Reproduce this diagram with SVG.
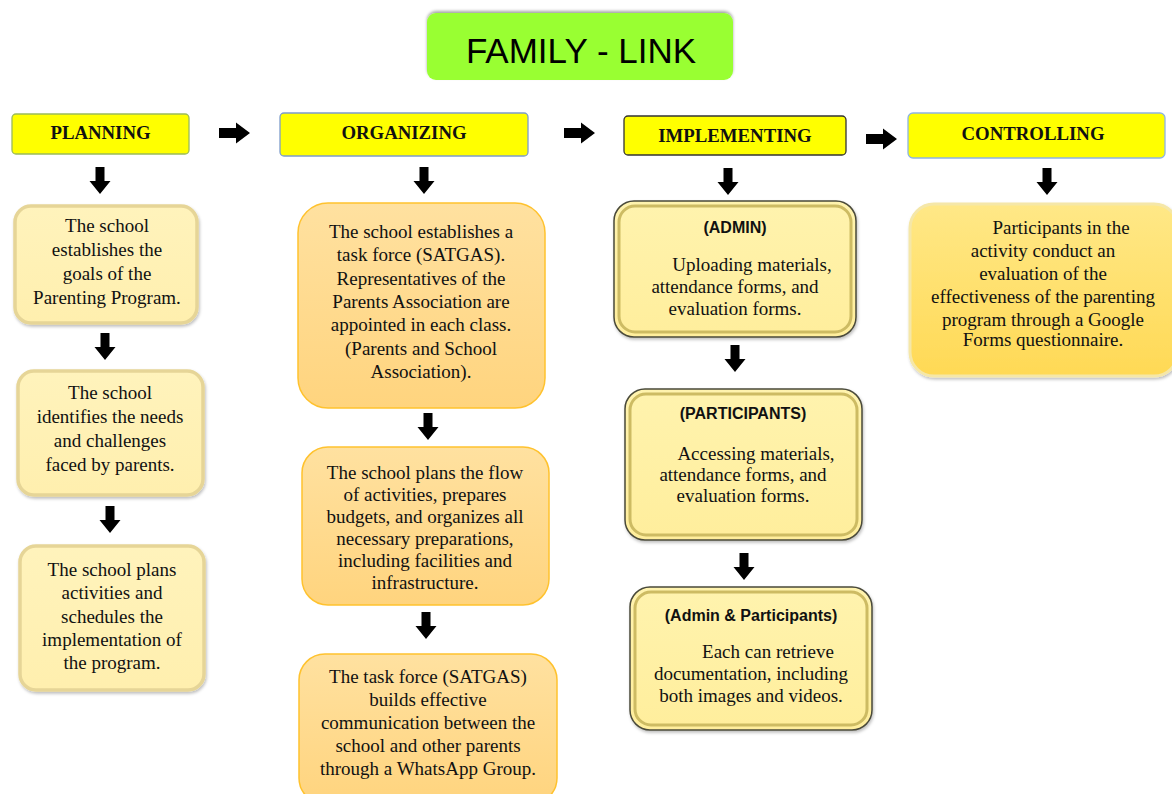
<svg xmlns="http://www.w3.org/2000/svg" width="1172" height="794" viewBox="0 0 1172 794">
<defs>
<style>
.t{font-family:"Liberation Serif","Times New Roman",serif;font-size:19px;fill:#111;text-anchor:middle}
.h{font-family:"Liberation Serif","Times New Roman",serif;font-size:18.8px;font-weight:bold;fill:#111;text-anchor:middle}
.s{font-family:"Liberation Sans",Arial,sans-serif;font-size:16px;font-weight:bold;fill:#111;text-anchor:middle}
.hd{fill:#FFFF00;stroke-width:1.3}
.pl{fill:url(#gPl);stroke:#E6D597;stroke-width:3.5;filter:url(#sh)}
.og{fill:url(#gOg);stroke:#FFC22E;stroke-width:1.5}
.im{fill:url(#gIm);stroke:#4A4A3A;stroke-width:1.5;filter:url(#sh)}
.imi{fill:none;stroke:#CDBB63;stroke-width:3}
.ct{fill:url(#gCt);stroke:#F5E7A8;stroke-width:3;filter:url(#sh)}
.ar{fill:#000}
</style>
<linearGradient id="gPl" x1="0" y1="0" x2="0" y2="1"><stop offset="0" stop-color="#FFF3BC"/><stop offset="1" stop-color="#FFEFAE"/></linearGradient>
<linearGradient id="gOg" x1="0" y1="0" x2="0" y2="1"><stop offset="0" stop-color="#FFE1A0"/><stop offset="1" stop-color="#FFD47E"/></linearGradient>
<linearGradient id="gIm" x1="0" y1="0" x2="0" y2="1"><stop offset="0" stop-color="#FFF3AE"/><stop offset="1" stop-color="#FFEE9C"/></linearGradient>
<linearGradient id="gCt" x1="0" y1="0" x2="0" y2="1"><stop offset="0" stop-color="#FFE887"/><stop offset="1" stop-color="#FFD955"/></linearGradient>
<filter id="sh" x="-10%" y="-10%" width="120%" height="125%"><feDropShadow dx="1" dy="2" stdDeviation="1.5" flood-color="#000" flood-opacity="0.25"/></filter>
<filter id="tsh" x="-10%" y="-20%" width="120%" height="140%"><feDropShadow dx="0" dy="-2" stdDeviation="1.5" flood-color="#000" flood-opacity="0.35"/></filter>
<path id="ad" d="M-4.5,0 H4.5 V14 H10.5 L0,27 L-10.5,14 H-4.5 Z"/>
<path id="ar" d="M0,-5 H17 V-10.5 L31,0 L17,10.5 V5 H0 Z"/>
</defs>
<rect width="1172" height="794" fill="#fff"/>

<g id="title">
<rect x="427" y="13" width="306" height="67" rx="9" fill="#99FF33" filter="url(#tsh)"/>
<text x="581" y="63" style="font-family:'Liberation Sans',Arial,sans-serif;font-size:35px;fill:#000;text-anchor:middle">FAMILY - LINK</text>
</g>

<g id="planning">
<rect class="hd" x="12" y="114" width="177" height="40" rx="4" stroke="#9BBB59"/>
<text class="h" x="100.5" y="139">PLANNING</text>
</g>
<g id="organizing">
<rect class="hd" x="280" y="113" width="248" height="43" rx="4" stroke="#7E9CCB"/>
<text class="h" x="404" y="139">ORGANIZING</text>
</g>
<g id="implementing">
<rect class="hd" x="624" y="116" width="222" height="39" rx="4" stroke="#333"/>
<text class="h" x="735" y="142">IMPLEMENTING</text>
</g>
<g id="controlling">
<rect class="hd" x="908" y="113" width="257" height="45" rx="5" stroke="#8EB4E3"/>
<text class="h" x="1033" y="140">CONTROLLING</text>
</g>

<g id="p1">
<rect class="pl" x="15" y="206" width="182" height="117" rx="16"/>
<text class="t" x="107" y="232">The school</text>
<text class="t" x="107" y="256">establishes the</text>
<text class="t" x="107" y="280">goals of the</text>
<text class="t" x="107" y="304">Parenting Program.</text>
</g>
<g id="p2">
<rect class="pl" x="18" y="371" width="185" height="124" rx="16"/>
<text class="t" x="110" y="399">The school</text>
<text class="t" x="110" y="423">identifies the needs</text>
<text class="t" x="110" y="447">and challenges</text>
<text class="t" x="110" y="471">faced by parents.</text>
</g>
<g id="p3">
<rect class="pl" x="20" y="546" width="184" height="144" rx="16"/>
<text class="t" x="112" y="576">The school plans</text>
<text class="t" x="112" y="599">activities and</text>
<text class="t" x="112" y="623">schedules the</text>
<text class="t" x="112" y="646">implementation of</text>
<text class="t" x="112" y="669">the program.</text>
</g>

<g id="o1">
<rect class="og" x="298" y="203" width="247" height="205" rx="30"/>
<text class="t" x="421" y="238">The school establishes a</text>
<text class="t" x="421" y="261">task force (SATGAS).</text>
<text class="t" x="421" y="285">Representatives of the</text>
<text class="t" x="421" y="308">Parents Association are</text>
<text class="t" x="421" y="331">appointed in each class.</text>
<text class="t" x="421" y="355">(Parents and School</text>
<text class="t" x="421" y="378">Association).</text>
</g>
<g id="o2">
<rect class="og" x="302" y="447" width="247" height="158" rx="26"/>
<text class="t" x="425" y="479">The school plans the flow</text>
<text class="t" x="425" y="501">of activities, prepares</text>
<text class="t" x="425" y="523">budgets, and organizes all</text>
<text class="t" x="425" y="545">necessary preparations,</text>
<text class="t" x="425" y="567">including facilities and</text>
<text class="t" x="425" y="589">infrastructure.</text>
</g>
<g id="o3">
<rect class="og" x="299" y="654" width="258" height="150" rx="26"/>
<text class="t" x="428" y="683">The task force (SATGAS)</text>
<text class="t" x="428" y="706">builds effective</text>
<text class="t" x="428" y="729">communication between the</text>
<text class="t" x="428" y="752">school and other parents</text>
<text class="t" x="428" y="775">through a WhatsApp Group.</text>
</g>

<g id="i1">
<rect class="im" x="614" y="201" width="242" height="136" rx="20"/>
<rect class="imi" x="619" y="206" width="232" height="126" rx="16"/>
<text class="s" x="735" y="233">(ADMIN)</text>
<text class="t" x="752" y="271">Uploading materials,</text>
<text class="t" x="735" y="293">attendance forms, and</text>
<text class="t" x="735" y="315">evaluation forms.</text>
</g>
<g id="i2">
<rect class="im" x="625" y="389" width="237" height="151" rx="20"/>
<rect class="imi" x="630" y="394" width="227" height="141" rx="16"/>
<text class="s" x="743" y="419">(PARTICIPANTS)</text>
<text class="t" x="756" y="460">Accessing materials,</text>
<text class="t" x="743" y="481">attendance forms, and</text>
<text class="t" x="743" y="502">evaluation forms.</text>
</g>
<g id="i3">
<rect class="im" x="630" y="587" width="242" height="143" rx="20"/>
<rect class="imi" x="635" y="592" width="232" height="133" rx="16"/>
<text class="s" x="751" y="621">(Admin &amp; Participants)</text>
<text class="t" x="768" y="658">Each can retrieve</text>
<text class="t" x="751" y="680">documentation, including</text>
<text class="t" x="751" y="702">both images and videos.</text>
</g>

<g id="c1">
<rect class="ct" x="910" y="204" width="268" height="172" rx="24"/>
<text class="t" x="1061" y="234">Participants in the</text>
<text class="t" x="1043" y="257">activity conduct an</text>
<text class="t" x="1043" y="280">evaluation of the</text>
<text class="t" x="1043" y="303">effectiveness of the parenting</text>
<text class="t" x="1043" y="326">program through a Google</text>
<text class="t" x="1043" y="346">Forms questionnaire.</text>
</g>

<g id="connectors" class="ar">
<use href="#ar" x="219" y="133"/>
<use href="#ar" x="564" y="133"/>
<use href="#ar" x="866" y="139"/>
<use href="#ad" x="100" y="167"/>
<use href="#ad" x="424" y="167"/>
<use href="#ad" x="728" y="168"/>
<use href="#ad" x="1047" y="168"/>
<use href="#ad" x="105" y="333"/>
<use href="#ad" x="110" y="506"/>
<use href="#ad" x="428" y="413"/>
<use href="#ad" x="426" y="612"/>
<use href="#ad" x="735" y="345"/>
<use href="#ad" x="744" y="553"/>
</g>
</svg>
